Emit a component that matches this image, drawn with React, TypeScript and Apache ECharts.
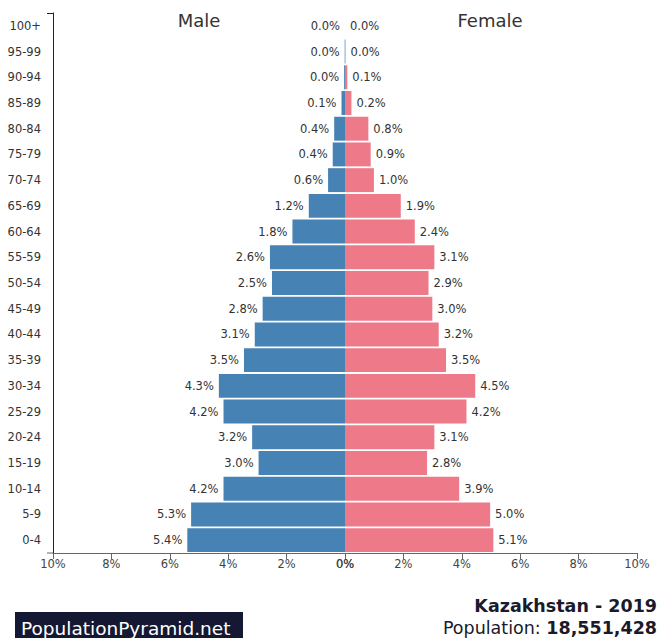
import React, { useEffect, useRef } from "react";
import * as echarts from "echarts";

const ageGroups = ["0-4", "5-9", "10-14", "15-19", "20-24", "25-29", "30-34", "35-39", "40-44", "45-49", "50-54", "55-59", "60-64", "65-69", "70-74", "75-79", "80-84", "85-89", "90-94", "95-99", "100+"];
const maleValues = [5.40, 5.27, 4.16, 2.96, 3.18, 4.16, 4.32, 3.46, 3.09, 2.82, 2.50, 2.57, 1.80, 1.24, 0.58, 0.42, 0.37, 0.12, 0.03, 0.01, 0.0];
const femaleValues = [5.08, 4.97, 3.91, 2.81, 3.06, 4.16, 4.46, 3.46, 3.21, 2.99, 2.86, 3.06, 2.39, 1.91, 0.99, 0.88, 0.80, 0.22, 0.08, 0.02, 0.0];
const xMax = 10;
const xInterval = 2;
const titleText = "Kazakhstan - 2019";
const populationText = "18,551,428";
const brandText = "PopulationPyramid.net";

const FONT = "DejaVu Sans";
const TEXT = "#333";

export default function App() {
  const ref = useRef<HTMLDivElement>(null);
  useEffect(() => {
    if (!ref.current) return;
    const chart = echarts.init(ref.current, null, { renderer: "svg" });
    const xAxisCommon = {
      type: "value",
      min: 0,
      max: xMax,
      interval: xInterval,
      axisLine: { show: true, onZero: false, lineStyle: { color: "#666", width: 1 } },
      axisTick: { show: true, length: 6, lineStyle: { color: "#666" } },
      axisLabel: { formatter: (v: number) => v + "%", color: "#444", fontFamily: FONT, fontSize: 11.5, margin: 5 },
      splitLine: { show: false },
    };
    const labelCommon = {
      show: true,
      distance: 5,
      color: TEXT,
      fontFamily: FONT,
      fontSize: 11.5,
      formatter: (p: any) => Number(p.value).toFixed(1) + "%",
    };
    chart.setOption({
      animation: false,
      backgroundColor: "#fff",
      grid: [
        { left: 53, top: 13, width: 292, height: 540 },
        { left: 345, top: 13, width: 292, height: 540 },
      ],
      xAxis: [
        { ...xAxisCommon, gridIndex: 0, inverse: true },
        { ...xAxisCommon, gridIndex: 1 },
      ],
      yAxis: [
        {
          type: "category",
          gridIndex: 0,
          data: ageGroups,
          position: "left",
          axisLine: { show: true, onZero: false, lineStyle: { color: "#222" } },
          axisTick: { show: false },
          axisLabel: { color: TEXT, fontFamily: FONT, fontSize: 11.5, margin: 12 },
        },
        {
          type: "category",
          gridIndex: 1,
          data: ageGroups,
          show: false,
        },
      ],
      series: [
        {
          name: "Male",
          type: "bar",
          xAxisIndex: 0,
          yAxisIndex: 0,
          data: maleValues,
          barCategoryGap: "7%",
          itemStyle: { color: "#4682b4" },
          label: { ...labelCommon, position: "left" },
        },
        {
          name: "Female",
          type: "bar",
          xAxisIndex: 1,
          yAxisIndex: 1,
          data: femaleValues,
          barCategoryGap: "7%",
          itemStyle: { color: "#ee7989" },
          label: { ...labelCommon, position: "right" },
        },
      ],
      graphic: [
        { type: "line", shape: { x1: 47, y1: 13.5, x2: 53, y2: 13.5 }, style: { stroke: "#222", lineWidth: 1 } },
        { type: "line", shape: { x1: 47, y1: 553, x2: 53, y2: 553 }, style: { stroke: "#666", lineWidth: 1 } },
        { type: "text", x: 199, y: 20, style: { text: "Male", font: `18px '${FONT}'`, fill: TEXT, textAlign: "center", textVerticalAlign: "middle" } },
        { type: "text", x: 490, y: 20, style: { text: "Female", font: `18px '${FONT}'`, fill: TEXT, textAlign: "center", textVerticalAlign: "middle" } },
        { type: "text", x: 657, y: 606, style: { text: titleText, font: `bold 17.5px '${FONT}'`, fill: "#1a1a2a", textAlign: "right", textVerticalAlign: "middle" } },
        {
          type: "text",
          x: 657,
          y: 628,
          style: {
            text: "{n|Population: }{b|" + populationText + "}",
            textAlign: "right",
            textVerticalAlign: "middle",
            rich: {
              n: { fontFamily: FONT, fontSize: 17.5, fill: "#1a1a2a", color: "#1a1a2a" },
              b: { fontFamily: FONT, fontSize: 17.5, fontWeight: "bold", fill: "#1a1a2a", color: "#1a1a2a" },
            },
          },
        },
        { type: "rect", shape: { x: 15, y: 612, width: 228, height: 30 }, style: { fill: "#141833" } },
        { type: "text", x: 21, y: 628, style: { text: brandText, font: `18.5px '${FONT}'`, fill: "#fff", textAlign: "left", textVerticalAlign: "middle" } },
      ],
    });
    return () => chart.dispose();
  }, []);
  return <div ref={ref} style={{ position: "absolute", left: 0, top: 0, width: 659, height: 638 }} />;
}
